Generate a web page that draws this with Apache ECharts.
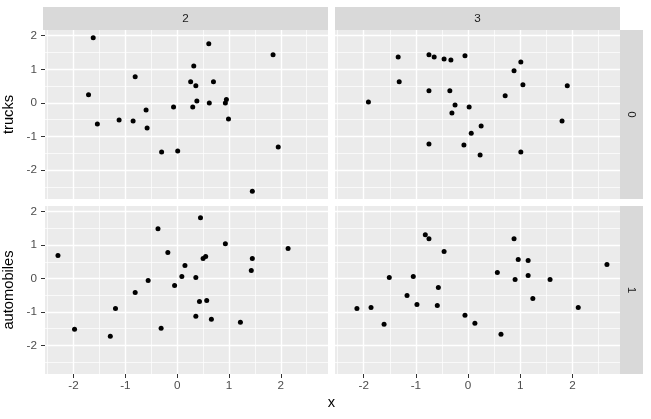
<!DOCTYPE html>
<html>
<head>
<meta charset="utf-8">
<script src="https://cdn.jsdelivr.net/npm/echarts@6/dist/echarts.min.js"></script>
<style>
html, body { margin: 0; padding: 0; background: #fff; }
#chart { width: 651px; height: 419px; }
</style>
</head>
<body>
<div id="chart"></div>
<script>
// facet labels
const colLabels = ["2", "3"];
const rowStrips = ["0", "1"];
const rowTitles = ["trucks", "automobiles"];
const xTitle = "x";

// tick values
const majorTicks = [-2, -1, 0, 1, 2];
const xMinorTicks = [-2.5, -1.5, -0.5, 0.5, 1.5, 2.5];
const yMinorTicks = [-2.5, -1.5, -0.5, 0.5, 1.5];

// points
const trucks2X = [-1.62, 0.61, 1.85, 0.32, -0.81, 0.26, 0.70, 0.36, -1.71, 0.38, 0.62, 0.95, 0.93, -0.07, 0.30, -0.60, 0.99, -1.12, -0.85, -1.54, -0.58, -0.30, 0.01, 1.95, 1.45];
const trucks2Y = [1.94, 1.76, 1.43, 1.10, 0.78, 0.63, 0.63, 0.51, 0.24, 0.06, 0.00, 0.10, 0.00, -0.12, -0.12, -0.21, -0.48, -0.51, -0.54, -0.63, -0.75, -1.46, -1.43, -1.31, -2.63];

const trucks3X = [-1.34, -0.75, -0.65, -0.46, -0.33, -0.06, 1.01, 0.88, -1.32, 1.05, 1.90, -0.75, -0.35, 0.71, -1.91, -0.25, 0.02, -0.31, 1.80, 0.25, 0.06, -0.75, -0.08, 1.01, 0.23];
const trucks3Y = [1.37, 1.43, 1.37, 1.31, 1.28, 1.40, 1.22, 0.96, 0.63, 0.54, 0.51, 0.36, 0.36, 0.21, 0.03, -0.06, -0.12, -0.30, -0.54, -0.69, -0.90, -1.22, -1.25, -1.46, -1.55];

const autos2X = [0.45, -0.37, 0.93, 2.14, -2.30, -0.18, 0.55, 0.50, 1.45, 0.15, 1.43, 0.09, 0.36, -0.56, -0.05, -0.81, 0.43, 0.57, -1.19, 0.36, 0.66, 1.22, -1.98, -0.31, -1.29];
const autos2Y = [1.82, 1.49, 1.04, 0.90, 0.69, 0.78, 0.66, 0.60, 0.60, 0.39, 0.24, 0.06, 0.03, -0.06, -0.21, -0.42, -0.69, -0.66, -0.90, -1.13, -1.22, -1.31, -1.52, -1.49, -1.73];

const autos3X = [-0.82, -0.75, 0.88, -0.46, 0.96, 1.15, 2.66, 0.56, 1.15, -1.51, -1.05, 0.90, 1.57, -0.57, -1.17, 1.24, -0.98, -0.59, -2.13, -1.86, 2.11, -0.06, 0.13, -1.61, 0.63];
const autos3Y = [1.31, 1.19, 1.19, 0.81, 0.57, 0.54, 0.42, 0.18, 0.09, 0.03, 0.06, -0.03, -0.03, -0.27, -0.51, -0.60, -0.78, -0.81, -0.90, -0.87, -0.87, -1.10, -1.34, -1.37, -1.67];

const xMin = -2.55, xMax = 2.91;
const yMin = -2.86, yMax = 2.17;

const panels = [
  { row: 0, col: 0, xs: trucks2X, ys: trucks2Y },
  { row: 0, col: 1, xs: trucks3X, ys: trucks3Y },
  { row: 1, col: 0, xs: autos2X, ys: autos2Y },
  { row: 1, col: 1, xs: autos3X, ys: autos3Y }
];

const lefts = [43, 335], tops = [30, 206], heights = [169, 168], panelW = 285;
const font = "'Liberation Sans', Arial, sans-serif";

let grid = [], xAxis = [], yAxis = [], series = [];
panels.forEach(function (p, i) {
  grid.push({
    left: lefts[p.col], top: tops[p.row], width: panelW, height: heights[p.row],
    show: true, backgroundColor: "#EBEBEB", borderWidth: 0
  });
  // major x
  xAxis.push({
    type: "value", gridIndex: i, min: xMin, max: xMax, position: "bottom",
    axisLine: { show: false, onZero: false },
    axisTick: { show: p.row === 1, customValues: majorTicks, length: 4, lineStyle: { color: "#333333", width: 1 } },
    axisLabel: { show: p.row === 1, customValues: majorTicks, color: "#4D4D4D", fontSize: 11.7, fontFamily: font, margin: 6 },
    splitLine: { show: true, lineStyle: { color: "#FFFFFF", width: 1.4 } }
  });
  // minor x (grid lines only)
  xAxis.push({
    type: "value", gridIndex: i, min: xMin, max: xMax, position: "bottom",
    axisLine: { show: false, onZero: false },
    axisTick: { show: false, customValues: xMinorTicks },
    axisLabel: { show: false, customValues: xMinorTicks },
    splitLine: { show: true, lineStyle: { color: "#FFFFFF", width: 0.7 } }
  });
  yAxis.push({
    type: "value", gridIndex: i, min: yMin, max: yMax, position: "left",
    name: p.col === 0 ? rowTitles[p.row] : "",
    nameLocation: "middle", nameGap: 29,
    nameTextStyle: { color: "#000000", fontSize: 14.7, fontFamily: font },
    axisLine: { show: false, onZero: false },
    axisTick: { show: p.col === 0, customValues: majorTicks, length: 4, lineStyle: { color: "#333333", width: 1 } },
    axisLabel: { show: p.col === 0, customValues: majorTicks, color: "#4D4D4D", fontSize: 11.7, fontFamily: font, margin: 8 },
    splitLine: { show: true, lineStyle: { color: "#FFFFFF", width: 1.4 } }
  });
  yAxis.push({
    type: "value", gridIndex: i, min: yMin, max: yMax, position: "left",
    axisLine: { show: false, onZero: false },
    axisTick: { show: false, customValues: yMinorTicks },
    axisLabel: { show: false, customValues: yMinorTicks },
    splitLine: { show: true, lineStyle: { color: "#FFFFFF", width: 0.7 } }
  });
  series.push({
    type: "scatter", xAxisIndex: 2 * i, yAxisIndex: 2 * i,
    data: p.xs.map(function (x, k) { return [x, p.ys[k]]; }),
    symbol: "circle", symbolSize: 5,
    itemStyle: { color: "#000000", opacity: 1 },
    silent: true, z: 5
  });
});

// facet strips
let graphic = [];
colLabels.forEach(function (lab, c) {
  graphic.push({ type: "rect", left: lefts[c], top: 7, shape: { width: panelW, height: 23 }, style: { fill: "#D9D9D9" } });
  graphic.push({ type: "text", x: lefts[c] + panelW / 2, y: 18.5,
    style: { text: lab, fill: "#1A1A1A", fontSize: 11.7, fontFamily: font, align: "center", verticalAlign: "middle" } });
});
rowStrips.forEach(function (lab, r) {
  graphic.push({ type: "rect", left: 620, top: tops[r], shape: { width: 23, height: heights[r] }, style: { fill: "#D9D9D9" } });
  graphic.push({ type: "text", x: 631.5, y: tops[r] + heights[r] / 2, rotation: -Math.PI / 2,
    style: { text: lab, fill: "#1A1A1A", fontSize: 11.7, fontFamily: font, align: "center", verticalAlign: "middle" } });
});
graphic.push({ type: "text", x: 331.5, y: 403,
  style: { text: xTitle, fill: "#000000", fontSize: 14.7, fontFamily: font, align: "center", verticalAlign: "middle" } });

const myChart = echarts.init(document.getElementById("chart"));
myChart.setOption({
  animation: false,
  backgroundColor: "#FFFFFF",
  grid: grid,
  xAxis: xAxis,
  yAxis: yAxis,
  series: series,
  graphic: graphic
});
window.addEventListener("resize", function () { myChart.resize(); });
</script>
</body>
</html>
